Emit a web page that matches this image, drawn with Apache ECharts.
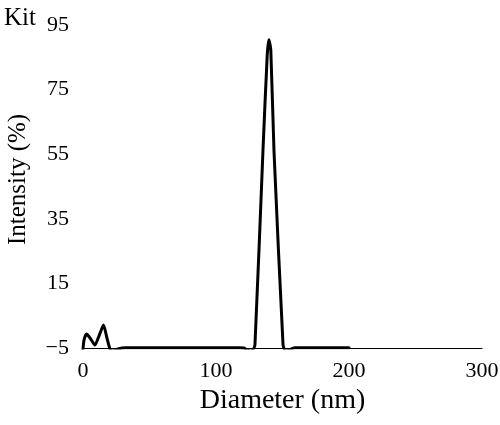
<!DOCTYPE html>
<html>
<head>
<meta charset="utf-8">
<script src="https://cdn.jsdelivr.net/npm/echarts@6/dist/echarts.min.js"></script>
<style>html,body{margin:0;padding:0;background:#fff}#c{width:500px;height:425px}</style>
</head>
<body>
<div id="c"></div>
<script>
const diameter = [0, 0.8, 2.6, 5.3, 9, 12, 15.4, 18, 20.3, 22.6, 26.3, 31.6, 60, 90, 118, 121, 123.5, 125.6, 127.8, 129.3, 135.3, 138.5, 139.8, 141.2, 143.6, 150.4, 151.6, 153.2, 155.5, 159, 180, 200];
const intensity = [-5.3, -2.5, -0.7, -1.9, -4.1, -1.3, 2.1, -1.9, -5.3, -6.0, -5.3, -4.9, -4.9, -4.9, -4.9, -5.0, -5.6, -5.9, -5.5, -4.0, 56, 85.5, 90.4, 87.3, 56, -4.0, -5.5, -5.9, -5.5, -4.9, -4.9, -4.9];
const xTicks = [0, 100, 200, 300];
const yTicks = [-5, 15, 35, 55, 75, 95];
const chartTitle = 'Kit';
const xName = 'Diameter (nm)';
const yName = 'Intensity (%)';

const font = 'Liberation Serif';
const chart = echarts.init(document.getElementById('c'), null, {renderer: 'canvas'});
chart.setOption({
  animation: false,
  backgroundColor: '#fff',
  title: {text: chartTitle, left: -1, top: 1, textStyle: {fontFamily: font, fontSize: 25, fontWeight: 'normal', color: '#000'}},
  grid: {left: 83, right: 18, top: 25, bottom: 77, containLabel: false, outerBoundsMode: 'none'},
  xAxis: {
    type: 'value', min: xTicks[0], max: xTicks[xTicks.length - 1], interval: xTicks[1] - xTicks[0],
    name: xName, nameLocation: 'middle', nameGap: 37,
    nameTextStyle: {fontFamily: font, fontSize: 28, color: '#000'},
    axisLine: {show: true, onZero: false, lineStyle: {color: '#000', width: 1}},
    axisTick: {show: false}, splitLine: {show: false},
    axisLabel: {fontFamily: font, fontSize: 22, color: '#000', margin: 12}
  },
  yAxis: {
    type: 'value', min: yTicks[0], max: yTicks[yTicks.length - 1], interval: yTicks[1] - yTicks[0],
    name: yName, nameLocation: 'middle', nameGap: 52,
    nameTextStyle: {fontFamily: font, fontSize: 25, color: '#000', padding: [0, 0, 0, 14]},
    axisLine: {show: false}, axisTick: {show: false}, splitLine: {show: false},
    axisLabel: {fontFamily: font, fontSize: 22, color: '#000', margin: 14,
      formatter: v => (v < 0 ? '\u2212' + Math.abs(v) : String(v))}
  },
  series: [{
    type: 'line', data: diameter.map((d, i) => [d, intensity[i]]),
    showSymbol: false, smooth: 0.2,
    lineStyle: {color: '#000', width: 3, join: 'round', cap: 'round'}
  }]
});
</script>
</body>
</html>
